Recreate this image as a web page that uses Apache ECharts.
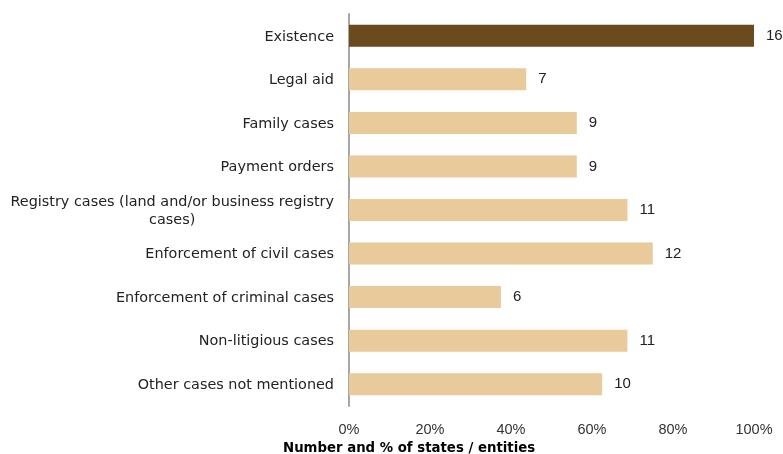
<!DOCTYPE html>
<html>
<head>
<meta charset="utf-8">
<script src="https://cdn.jsdelivr.net/npm/echarts@6/dist/echarts.min.js"></script>
<style>html,body{margin:0;padding:0;background:#fff}#c{width:783px;height:454px}</style>
</head>
<body>
<div id="c"></div>
<script>
const categories = [
  "Existence",
  "Legal aid",
  "Family cases",
  "Payment orders",
  "Registry cases (land and/or business registry\ncases)",
  "Enforcement of civil cases",
  "Enforcement of criminal cases",
  "Non-litigious cases",
  "Other cases not mentioned"
];
const counts = [16, 7, 9, 9, 11, 12, 6, 11, 10];
const totalEntities = 16;
const tickLabels = ["0%", "20%", "40%", "60%", "80%", "100%"];
const axisTitle = "Number and % of states / entities";

const darkColor = "#6B4A1E";
const lightColor = "#E8CA9B";
const catFont = "DejaVu Sans";

const chart = echarts.init(document.getElementById('c'));
const data = counts.map((c, i) => ({
  value: c / totalEntities * 100,
  count: c,
  itemStyle: { color: i === 0 ? darkColor : lightColor }
}));

chart.setOption({
  animation: false,
  title: {
    text: axisTitle,
    left: 278,
    top: 437,
    textStyle: { fontFamily: "DejaVu Sans", fontWeight: 'bold', fontSize: 13.3, color: "#000" }
  },
  grid: { left: 349, right: 29, top: 14, bottom: 48, containLabel: false },
  xAxis: {
    type: 'value',
    min: 0, max: 100, interval: 20,
    axisLine: { show: false },
    axisTick: { show: false },
    splitLine: { show: false },
    axisLabel: {
      margin: 16,
      fontSize: 14.5,
      fontFamily: "Liberation Sans",
      color: "#333",
      formatter: v => tickLabels[Math.round(v / 20)]
    }
  },
  yAxis: {
    type: 'category',
    data: categories,
    inverse: true,
    axisLine: { show: true, lineStyle: { color: "#A6A6A6", width: 2 } },
    axisTick: { show: false },
    axisLabel: {
      margin: 15,
      fontSize: 14.4,
      fontFamily: catFont,
      color: "#222",
      formatter: v => v.split("\n").map(s => "{a|" + s + "}").join("\n"),
      rich: { a: { align: 'center', fontSize: 14.4, fontFamily: catFont, color: "#222", lineHeight: 18, padding: [2, 0, 0, 0] } }
    }
  },
  series: [{
    type: 'bar',
    data: data,
    barWidth: 22,
    label: {
      show: true,
      position: 'right',
      distance: 12,
      fontSize: 15,
      fontFamily: "Liberation Sans",
      color: "#222",
      formatter: p => String(p.data.count)
    }
  }]
});
</script>
</body>
</html>
